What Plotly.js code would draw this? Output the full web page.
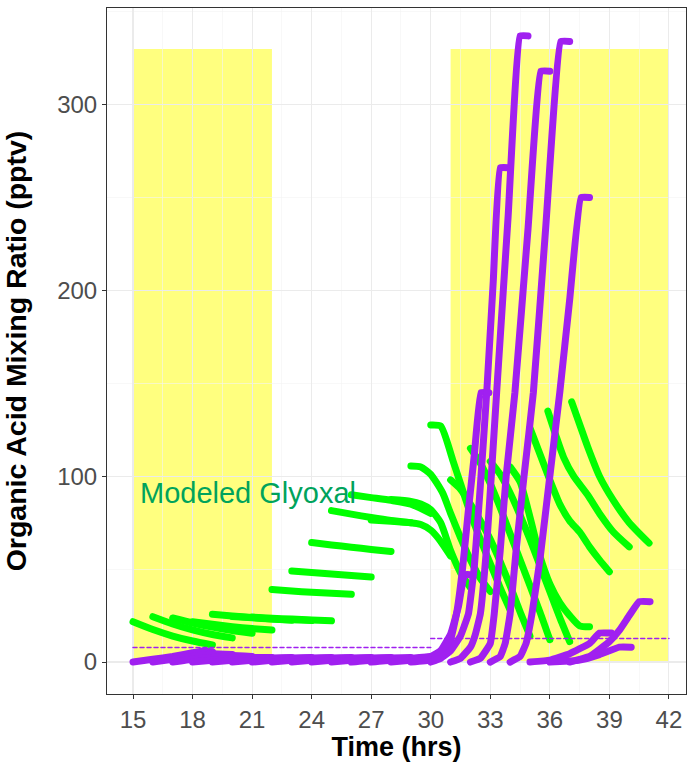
<!DOCTYPE html>
<html>
<head>
<meta charset="utf-8">
<script src="https://cdn.plot.ly/plotly-3.0.1.min.js"></script>
<style>
  html, body { margin: 0; padding: 0; background: #ffffff; }
  #chart { width: 692px; height: 762px; }
</style>
</head>
<body>
<div id="chart"></div>
<script>
// ---------- Data ----------
const xTickVals = [15, 18, 21, 24, 27, 30, 33, 36, 39, 42];
const yTickVals = [0, 100, 200, 300];

// shaded periods (hrs) and their top (pptv)
const shadeStart = [15, 31];
const shadeEnd = [22, 42];
const shadeTop = 330;

// dashed reference levels
const refTimes = [[15, 30], [30, 42]];
const refValues = [[7.8, 7.8], [12.7, 12.7]];

// Modeled glyoxal runs (green)
const greenTimes = [
  [15, 16, 17, 18, 19],
  [16, 17, 18, 19, 20],
  [17, 18, 19, 20, 21],
  [18, 19, 20, 21, 22],
  [19, 20, 21, 22, 23],
  [20, 21, 22, 23, 24],
  [21, 22, 23, 24, 25],
  [22, 23, 24, 25, 26],
  [23, 24, 25, 26, 27],
  [24, 25, 26, 27, 28],
  [25, 26, 27, 28, 29],
  [26, 27, 28, 29, 30],
  [27, 28, 29, 29.5, 30, 30.5, 31],
  [28, 29, 29.5, 30, 30.5, 31, 31.5, 32],
  [29, 29.5, 30, 30.6, 31, 31.5, 32, 32.5, 33],
  [30, 30.5, 31.1, 31.5, 32, 32.5, 33, 33.5, 34],
  [31, 31.5, 32, 32.5, 33, 33.5, 34, 34.5, 35],
  [32, 32.5, 33, 33.5, 34, 34.5, 35, 35.5, 36],
  [33, 33.5, 34, 34.5, 35, 35.5, 36, 36.5, 37],
  [34, 34.5, 35, 35.5, 36, 36.5, 37, 37.5, 38],
  [35, 35.5, 36, 36.5, 37, 37.5, 38, 38.5, 39],
  [35.9, 36.3, 36.7, 37.2, 37.9, 38.5, 39.2, 40],
  [37.1, 37.5, 37.9, 38.5, 39.2, 40, 41]
];
const greenValues = [
  [21.7, 17.5, 14, 11.3, 9.2],
  [24.4, 20.5, 17.3, 14.8, 13],
  [23.7, 21, 18.8, 17, 15.5],
  [21.7, 20.3, 19, 18, 17.2],
  [25.7, 24.8, 24, 23.2, 22.5],
  [24.5, 23.8, 23.2, 22.7, 22.3],
  [24.2, 23.6, 23.1, 22.6, 22.2],
  [39, 38.2, 37.5, 37, 36.5],
  [49, 48.2, 47.4, 46.6, 45.8],
  [64.3, 63, 61.8, 60.6, 59.5],
  [81.5, 79.6, 77.8, 76.2, 75],
  [90, 88.5, 87, 85, 80],
  [76.5, 75.8, 75, 74, 71, 65, 57],
  [87.5, 86.5, 85, 82, 75, 60, 48, 40],
  [105.5, 105, 101, 91, 80, 67, 55, 45, 38],
  [127.6, 127, 109, 96, 80, 66, 53, 40, 28],
  [98, 93, 85, 76, 66, 54, 41, 27, 14],
  [115, 107, 96, 83, 69, 55, 41, 27, 12],
  [108, 101, 91, 79, 66, 52, 38, 24, 11],
  [105, 97, 78, 57, 42, 32, 25, 19.5, 19],
  [126, 112, 98, 85, 76, 70, 62, 55, 48.6],
  [135, 122, 110, 100, 90, 80, 70, 62],
  [140, 128, 116, 100, 87, 75, 64]
];

// Modeled organic acid runs (purple)
const purpleTimes = [
  [15, 16, 17, 18, 18.5, 19],
  [16, 17, 18, 19, 20],
  [17, 18, 19, 20, 21],
  [18, 19, 20, 21, 22],
  [19, 20, 21, 22, 23],
  [20, 21, 22, 23, 24],
  [21, 22, 23, 24, 25],
  [22, 23, 24, 25, 26],
  [23, 24, 25, 26, 27],
  [24, 25, 26, 27, 28],
  [25, 26, 27, 28, 29],
  [26, 27, 28, 29, 30],
  [27, 28, 29, 30, 30.5, 31],
  [28, 29, 30, 30.5, 31, 31.4, 31.7, 32],
  [29, 30, 30.5, 31, 31.3, 31.6, 31.9, 32.2, 32.53, 32.93],
  [30, 30.5, 31, 31.5, 31.9, 32.2, 32.5, 32.82, 33.15, 33.5, 33.9],
  [31, 31.5, 32, 32.25, 32.5, 32.8, 33.05, 33.32, 33.9, 34.5, 34.9],
  [32, 32.5, 33, 33.2, 33.5, 33.8, 34.24, 34.9, 35.55, 36.0],
  [33, 33.5, 33.75, 34, 34.3, 34.7, 35.17, 35.8, 36.55, 37.0],
  [34, 34.5, 34.8, 35.1, 35.5, 36, 36.5, 37, 37.57, 38],
  [35, 36, 37, 38, 38.5, 39.1],
  [36, 37, 37.5, 38.5, 39.5, 40.1],
  [37, 38, 39, 39.5, 40, 40.5, 41.05]
];
const purpleValues = [
  [0, 1.5, 3, 5, 6, 5.5],
  [0, 1.5, 3, 4.5, 4],
  [0, 1.5, 2.5, 3.5, 3],
  [0, 1, 2, 2.5, 2.5],
  [0, 1, 1.8, 2.2, 2.5],
  [0, 1, 1.8, 2.2, 2.5],
  [0, 1, 1.8, 2.2, 2.5],
  [0, 1, 1.8, 2.2, 2.5],
  [0, 1, 1.8, 2.2, 2.5],
  [0, 1, 1.8, 2.2, 2.5],
  [0, 1, 1.8, 2.2, 2.5],
  [0, 1, 1.5, 2, 3],
  [0, 1, 1.5, 3, 6, 11],
  [0, 1, 2, 6, 15, 30, 47, 47],
  [0, 1, 4, 12, 26, 50, 82, 112, 145, 145],
  [0, 2, 6, 14, 26, 52, 95, 145, 205, 266, 266],
  [0, 2, 8, 15, 26, 60, 100, 145, 240, 337, 337],
  [0, 2, 10, 26, 60, 100, 145, 233, 318, 318],
  [0, 3, 10, 26, 60, 100, 145, 235, 334, 334],
  [0, 3, 10, 26, 55, 100, 145, 195, 250, 250],
  [0, 1, 4.5, 10, 15.6, 15.6],
  [0, 0.5, 1, 4, 8, 8],
  [0, 3, 11, 17, 25, 32.5, 32.5]
];

const labelText = 'Modeled Glyoxal';
const labelPos = [20.8, 91];

// ---------- Styles ----------
const GREEN = '#00FF00';
const PURPLE = '#A020F0';
const FONT = 'Liberation Sans, Arial, Helvetica, sans-serif';
const TICKFONT = 'Liberation Sans Narrow, Arial Narrow, Liberation Sans, sans-serif';

const traces = [];
greenTimes.forEach((t, i) => {
  traces.push({
    type: 'scatter', mode: 'lines', x: t, y: greenValues[i],
    line: { color: GREEN, width: 7, shape: 'spline', smoothing: 0.6 },
    hoverinfo: 'skip', showlegend: false
  });
});
refTimes.forEach((t, i) => {
  traces.push({
    type: 'scatter', mode: 'lines', x: t, y: refValues[i],
    line: { color: PURPLE, width: 1.5, dash: '4px,3px' },
    hoverinfo: 'skip', showlegend: false
  });
});
purpleTimes.forEach((t, i) => {
  traces.push({
    type: 'scatter', mode: 'lines', x: t, y: purpleValues[i],
    line: { color: PURPLE, width: 7, shape: 'spline', smoothing: 0.3 },
    hoverinfo: 'skip', showlegend: false
  });
});

const shapes = shadeStart.map((s, i) => ({
  type: 'rect', xref: 'x', yref: 'y', layer: 'below',
  x0: s, x1: shadeEnd[i], y0: 0, y1: shadeTop,
  fillcolor: 'rgba(255,255,0,0.5)', line: { width: 0 }
}));

const layout = {
  width: 692, height: 762,
  margin: { l: 107, r: 6, t: 8, b: 68 },
  paper_bgcolor: '#ffffff', plot_bgcolor: '#ffffff',
  showlegend: false,
  font: { family: FONT },
  xaxis: {
    range: [13.69, 42.86], tickvals: xTickVals, ticktext: xTickVals.map(String),
    showgrid: true, gridcolor: '#EBEBEB', gridwidth: 1.1,
    minor: { dtick: 1.5, tick0: 15, showgrid: true, gridcolor: '#F4F4F4', gridwidth: 0.6, ticklen: 0 },
    zeroline: false, showline: true, mirror: true, linecolor: '#333333', linewidth: 1,
    ticks: 'outside', ticklen: 4, tickcolor: '#333333', tickwidth: 1,
    tickfont: { size: 24, color: '#4D4D4D', family: TICKFONT },
    title: { text: '<b>Time (hrs)</b>', font: { size: 27, color: '#000000', family: FONT }, standoff: 5 }
  },
  yaxis: {
    range: [-17.2, 352], tickvals: yTickVals, ticktext: yTickVals.map(String),
    showgrid: true, gridcolor: '#EBEBEB', gridwidth: 1.1,
    minor: { dtick: 50, tick0: 0, showgrid: true, gridcolor: '#F4F4F4', gridwidth: 0.6, ticklen: 0 },
    zeroline: false, showline: true, mirror: true, linecolor: '#333333', linewidth: 1,
    ticks: 'outside', ticklen: 4, tickcolor: '#333333', tickwidth: 1,
    tickfont: { size: 24, color: '#4D4D4D', family: TICKFONT },
    title: { text: '<b>Organic Acid Mixing Ratio (pptv)</b>', font: { size: 28.5, color: '#000000', family: FONT }, standoff: 24 }
  },
  shapes: shapes,
  annotations: [{
    x: labelPos[0], y: labelPos[1], xref: 'x', yref: 'y',
    text: labelText, showarrow: false,
    font: { size: 29, color: '#00A35C', family: FONT }
  }]
};

Plotly.newPlot('chart', traces, layout, { staticPlot: true, displayModeBar: false }).then(() => {
  document.querySelectorAll('.scatterlayer .js-line').forEach(p => {
    p.style.strokeLinecap = 'round';
    p.style.strokeLinejoin = 'round';
  });
});
</script>
</body>
</html>
